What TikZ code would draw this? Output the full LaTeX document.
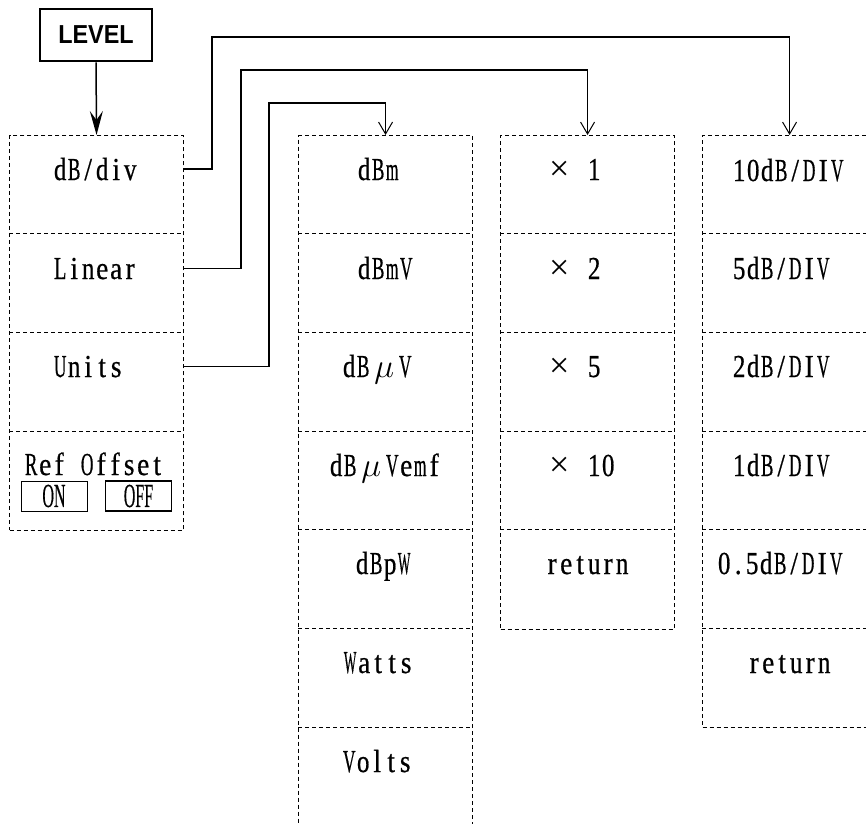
\documentclass[tikz,border=0pt]{standalone}
\usepackage{fontspec}
\usepackage{graphicx}
\usetikzlibrary{arrows.meta}
\newfontfamily\serf{Liberation Serif}[FakeStretch=0.85,FakeBold=0.6]
\newfontfamily\serfplain{Liberation Serif}[FakeBold=0.5]
\newfontfamily\serfthin{Liberation Serif}
\newfontfamily\lvlf{Liberation Sans}[FakeStretch=0.9]
\newbox\mcbox
\newcommand\mcchar[1]{\setbox\mcbox\hbox{#1}%
  \ifdim\wd\mcbox>12.5pt \hbox to 14pt{\hss\resizebox{12.5pt}{\height}{\copy\mcbox}\hss}%
  \else\hbox to 14pt{\hss\copy\mcbox\hss}\fi}
\def\mcA#1{\ifx#1\relax\else\mcchar{#1}\expandafter\mcA\fi}
\newcommand\mono[1]{\mcA#1\relax}
\newcommand\mumu{\hbox to 28pt{\hss\scalebox{1.35}{$\mu$}\hss}}
\newcommand\timesx{\hbox to 28pt{\hss{\serfthin\fontsize{36}{36}\selectfont ×}\hss}}
\begin{document}
\begin{tikzpicture}[x=1pt,y=-1pt,
  colbox/.style={draw, dash pattern=on 4pt off 3pt, line width=1.1pt, minimum width=174pt, inner sep=0pt, anchor=north west},
  sepline/.style={dash pattern=on 4pt off 3pt, line width=1.1pt},
  lbl/.style={font=\serf\fontsize{32}{36}\selectfont, inner sep=0pt, anchor=base west},
  onbox/.style={draw, minimum width=66pt, minimum height=30pt, inner sep=0pt, font=\serfplain\fontsize{32}{32}\selectfont},
  conn/.style={line width=1.4pt, -{Straight Barb[length=12pt,width=14pt,line width=1pt]}},
]
\clip (0,0) rectangle (866,823);
% LEVEL key
\node[draw, line width=2.5pt, minimum width=112pt, minimum height=52pt, inner sep=0pt,
      font=\lvlf\bfseries\fontsize{26}{26}\selectfont] (level) at (96,35) {LEVEL};
% columns
\node[colbox, minimum height=394.8pt] (col1) at (9,135) {};
\node[colbox, minimum height=691pt] (col2) at (298,135) {};
\node[colbox, minimum height=493.5pt] (col3) at (500,135) {};
\node[colbox, minimum height=592.2pt] (col4) at (702,135) {};
% separators
\foreach \k in {1,2,3} \draw[sepline] (9,{135+98.7*\k}) -- (183,{135+98.7*\k});
\foreach \k in {1,...,6} \draw[sepline] (298,{135+98.7*\k}) -- (472,{135+98.7*\k});
\foreach \k in {1,...,4} \draw[sepline] (500,{135+98.7*\k}) -- (674,{135+98.7*\k});
\foreach \k in {1,...,5} \draw[sepline] (702,{135+98.7*\k}) -- (876,{135+98.7*\k});
% column 1
\node[lbl] (tdbdiv) at (53,180) {\mono{dB/div}};
\node[lbl] (tlinear) at (53,279) {\mono{Linear}};
\node[lbl] (tunits) at (53,377) {\mono{Units}};
\node[lbl] (tref) at (24,475) {\mono{Ref~Offset}};
\node[onbox, line width=0.8pt] (on) at (54,496) {\scalebox{0.5}[1.05]{ON}};
\node[onbox, line width=1.4pt] (off) at (138.5,496) {\scalebox{0.5}[1.05]{OFF}};
% column 2
\node[lbl] (u1) at (357,180) {\mono{dBm}};
\node[lbl] (u2) at (357,279) {\mono{dBmV}};
\node[lbl] (u3) at (342,377) {\mono{dB}\mumu\mono{V}};
\node[lbl] (u4) at (329,476) {\mono{dB}\mumu\mono{Vemf}};
\node[lbl] (u5) at (355,574) {\mono{dBpW}};
\node[lbl] (u6) at (343,673) {\mono{Watts}};
\node[lbl] (u7) at (342,772) {\mono{Volts}};
% column 3
\node[lbl] (m1) at (545,180) {\timesx\mono{~1}};
\node[lbl] (m2) at (545,279) {\timesx\mono{~2}};
\node[lbl] (m3) at (545,377) {\timesx\mono{~5}};
\node[lbl] (m4) at (545,476) {\timesx\mono{~10}};
\node[lbl] (m5) at (545,574) {\mono{return}};
% column 4
\node[lbl] (d1) at (732,181) {\mono{10dB/DIV}};
\node[lbl] (d2) at (732,279) {\mono{5dB/DIV}};
\node[lbl] (d3) at (732,377) {\mono{2dB/DIV}};
\node[lbl] (d4) at (732,476) {\mono{1dB/DIV}};
\node[lbl] (d5) at (717,574) {\mono{0.5dB/DIV}};
\node[lbl] (d6) at (747,673) {\mono{return}};
% connectors
\coordinate (b1) at (212,37);
\coordinate (b2) at (241,70);
\coordinate (b3) at (269,103);
\draw[line width=1.5pt, -{Stealth[length=24pt,width=13pt,inset=9pt]}] (level.south) -- (col1.north);
\draw[conn] (col1.east |- tdbdiv) -| (b1) -| (col4.north);
\draw[conn] (col1.east |- tlinear) -| (b2) -| (col3.north);
\draw[conn] (col1.east |- tunits) -| (b3) -| (col2.north);
\end{tikzpicture}
\end{document}
